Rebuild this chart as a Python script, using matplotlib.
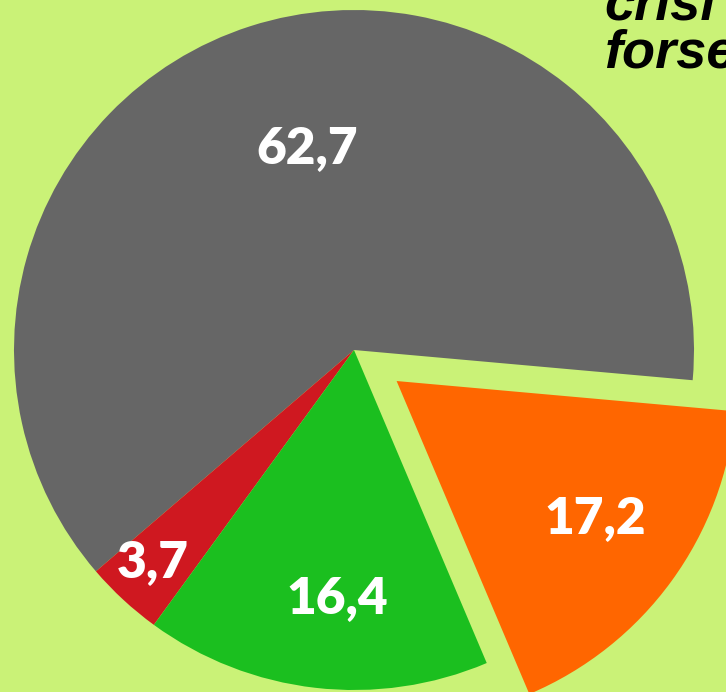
import numpy as np
import matplotlib.pyplot as plt

# slices, counterclockwise from the right
labels = ["62,7", "3,7", "16,4", "17,2"]
values = [62.7, 3.7, 16.4, 17.2]
colors = ["#666666", "#CF1820", "#1BBF1F", "#FF6600"]
explode = [0, 0, 0, 0.155]

# label placement inside each wedge (fraction of radius, angle nudge in degrees)
label_r = [0.61, 0.86, 0.73, 0.71]
label_da = [-4.7, -0.8, 2.6, 1.6]

bg = "#CAF277"
W, H = 726, 692
cx, cy, rad = 354, 350, 340  # pixel position of pie centre, radius

fig = plt.figure(figsize=(W / 100, H / 100), dpi=100)
fig.patch.set_facecolor(bg)
ax = fig.add_axes([0, 0, 1, 1])
ax.set_facecolor(bg)

wedges, _ = ax.pie(values, colors=colors, explode=explode, startangle=-5.1,
                   counterclock=True, radius=1,
                   wedgeprops=dict(linewidth=0))

for w, lab, r, da in zip(wedges, labels, label_r, label_da):
    mid = np.deg2rad((w.theta1 + w.theta2) / 2 + da)
    x0, y0 = w.center
    ax.text(x0 + r * np.cos(mid), y0 + r * np.sin(mid), lab, color="white",
            fontsize=37, fontweight="heavy", family="Lato",
            ha="center", va="center")

ax.set_xlim(-cx / rad, (W - cx) / rad)
ax.set_ylim(-(H - cy) / rad, cy / rad)
ax.set_aspect("equal")
ax.axis("off")

# title text cut off at the top right
fig.text(604 / W, 1 - 19 / H, "crisi", fontsize=39, fontweight="bold",
         style="italic", family="Liberation Sans", color="black",
         ha="left", va="baseline")
fig.text(604 / W, 1 - 67 / H, "forse", fontsize=39, fontweight="bold",
         style="italic", family="Liberation Sans", color="black",
         ha="left", va="baseline")

fig.savefig("out.png", dpi=100, facecolor=bg)
